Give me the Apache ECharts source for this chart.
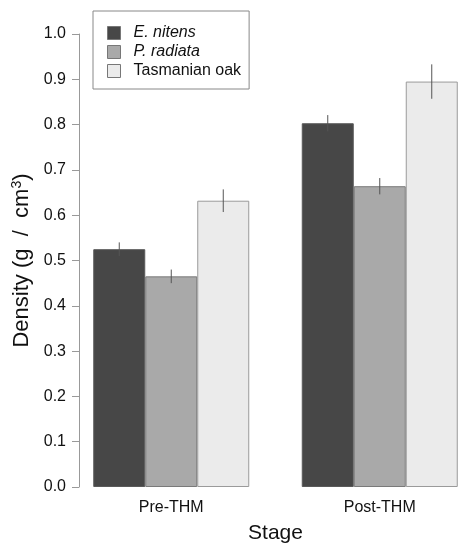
<!DOCTYPE html>
<html>
<head>
<meta charset="utf-8">
<script src="https://cdn.jsdelivr.net/npm/echarts@6/dist/echarts.min.js"></script>
<style>
  html, body { margin: 0; padding: 0; background: #fff; }
  #main { width: 466px; height: 550px; }
</style>
</head>
<body>
<div id="main"></div>
<script>
var stages = ['Pre-THM', 'Post-THM'];
var species = ['E. nitens', 'P. radiata', 'Tasmanian oak'];
var nitens = [0.525, 0.803];
var radiata = [0.465, 0.664];
var oak = [0.632, 0.895];
var nitensErr = [0.015, 0.018];
var radiataErr = [0.015, 0.018];
var oakErr = [0.025, 0.038];
var yTicks = [0, 0.1, 0.2, 0.3, 0.4, 0.5, 0.6, 0.7, 0.8, 0.9, 1.0];

var colors = ['#474747', '#a9a9a9', '#ebebeb'];
var borders = ['#5a5a5a', '#7a7a7a', '#9a9a9a'];
var values = [nitens, radiata, oak];
var errors = [nitensErr, radiataErr, oakErr];
var barW = 52;

var myChart = echarts.init(document.getElementById('main'));

var series = [];
species.forEach(function (name, i) {
    series.push({
        name: name,
        type: 'bar',
        barWidth: barW,
        barGap: '0%',
        data: values[i],
        itemStyle: { color: colors[i], borderColor: borders[i], borderWidth: 1 }
    });
});
// error bars
species.forEach(function (name, i) {
    var d = [];
    for (var k = 0; k < stages.length; k++) {
        d.push([k, values[i][k] - errors[i][k], values[i][k] + errors[i][k]]);
    }
    series.push({
        type: 'custom',
        silent: true,
        z: 10,
        data: d,
        renderItem: function (params, api) {
            var lo = api.coord([api.value(0), api.value(1)]);
            var hi = api.coord([api.value(0), api.value(2)]);
            var x = lo[0] + (i - 1) * barW;
            return {
                type: 'line',
                shape: { x1: x, y1: lo[1], x2: x, y2: hi[1] },
                style: { stroke: '#555', lineWidth: 1 }
            };
        }
    });
});

var option = {
    animation: false,
    textStyle: { fontFamily: 'Liberation Sans, Arial, sans-serif' },
    legend: {
        data: species,
        orient: 'vertical',
        left: 93,
        top: 11,
        padding: [14, 8, 10, 14],
        itemWidth: 13,
        itemHeight: 13,
        itemGap: 3,
        borderColor: '#888',
        borderWidth: 1,
        icon: 'rect',
        itemStyle: { borderColor: '#777', borderWidth: 1 },
        formatter: function (name) {
            return name === 'Tasmanian oak' ? name : '{i|' + name + '}';
        },
        textStyle: {
            fontSize: 16,
            color: '#111',
            padding: [0, 0, 0, 8],
            rich: { i: { fontStyle: 'italic', fontSize: 16, color: '#111' } }
        }
    },
    grid: { left: 67, width: 417, top: 34, bottom: 63, outerBoundsMode: 'none', containLabel: false },
    xAxis: {
        type: 'category',
        data: stages,
        axisLine: { show: false },
        axisTick: { show: false },
        axisLabel: { fontSize: 16, color: '#111', margin: 13 },
        name: 'Stage',
        nameLocation: 'middle',
        nameGap: 36,
        nameTextStyle: { fontSize: 21, color: '#111' }
    },
    yAxis: {
        type: 'value',
        min: 0,
        max: 1,
        interval: 0.1,
        offset: -12,
        splitLine: { show: false },
        axisLine: { show: true, lineStyle: { color: '#999' } },
        axisTick: { show: true, length: 7, lineStyle: { color: '#999' } },
        axisLabel: {
            fontSize: 16,
            color: '#111',
            margin: 13,
            formatter: function (v) {
                var t = yTicks.find(function (y) { return Math.abs(y - v) < 1e-9; });
                return (t === undefined ? v : t).toFixed(1);
            }
        },
        name: 'Density (g  /  cm{s|3})',
        nameLocation: 'middle',
        nameRotate: 90,
        nameGap: 45,
        nameTextStyle: {
            fontSize: 22,
            color: '#111',
            rich: { s: { fontSize: 14, verticalAlign: 'top', padding: [0, 0, 10, 0], color: '#111' } }
        }
    },
    series: series
};

myChart.setOption(option);
</script>
</body>
</html>
